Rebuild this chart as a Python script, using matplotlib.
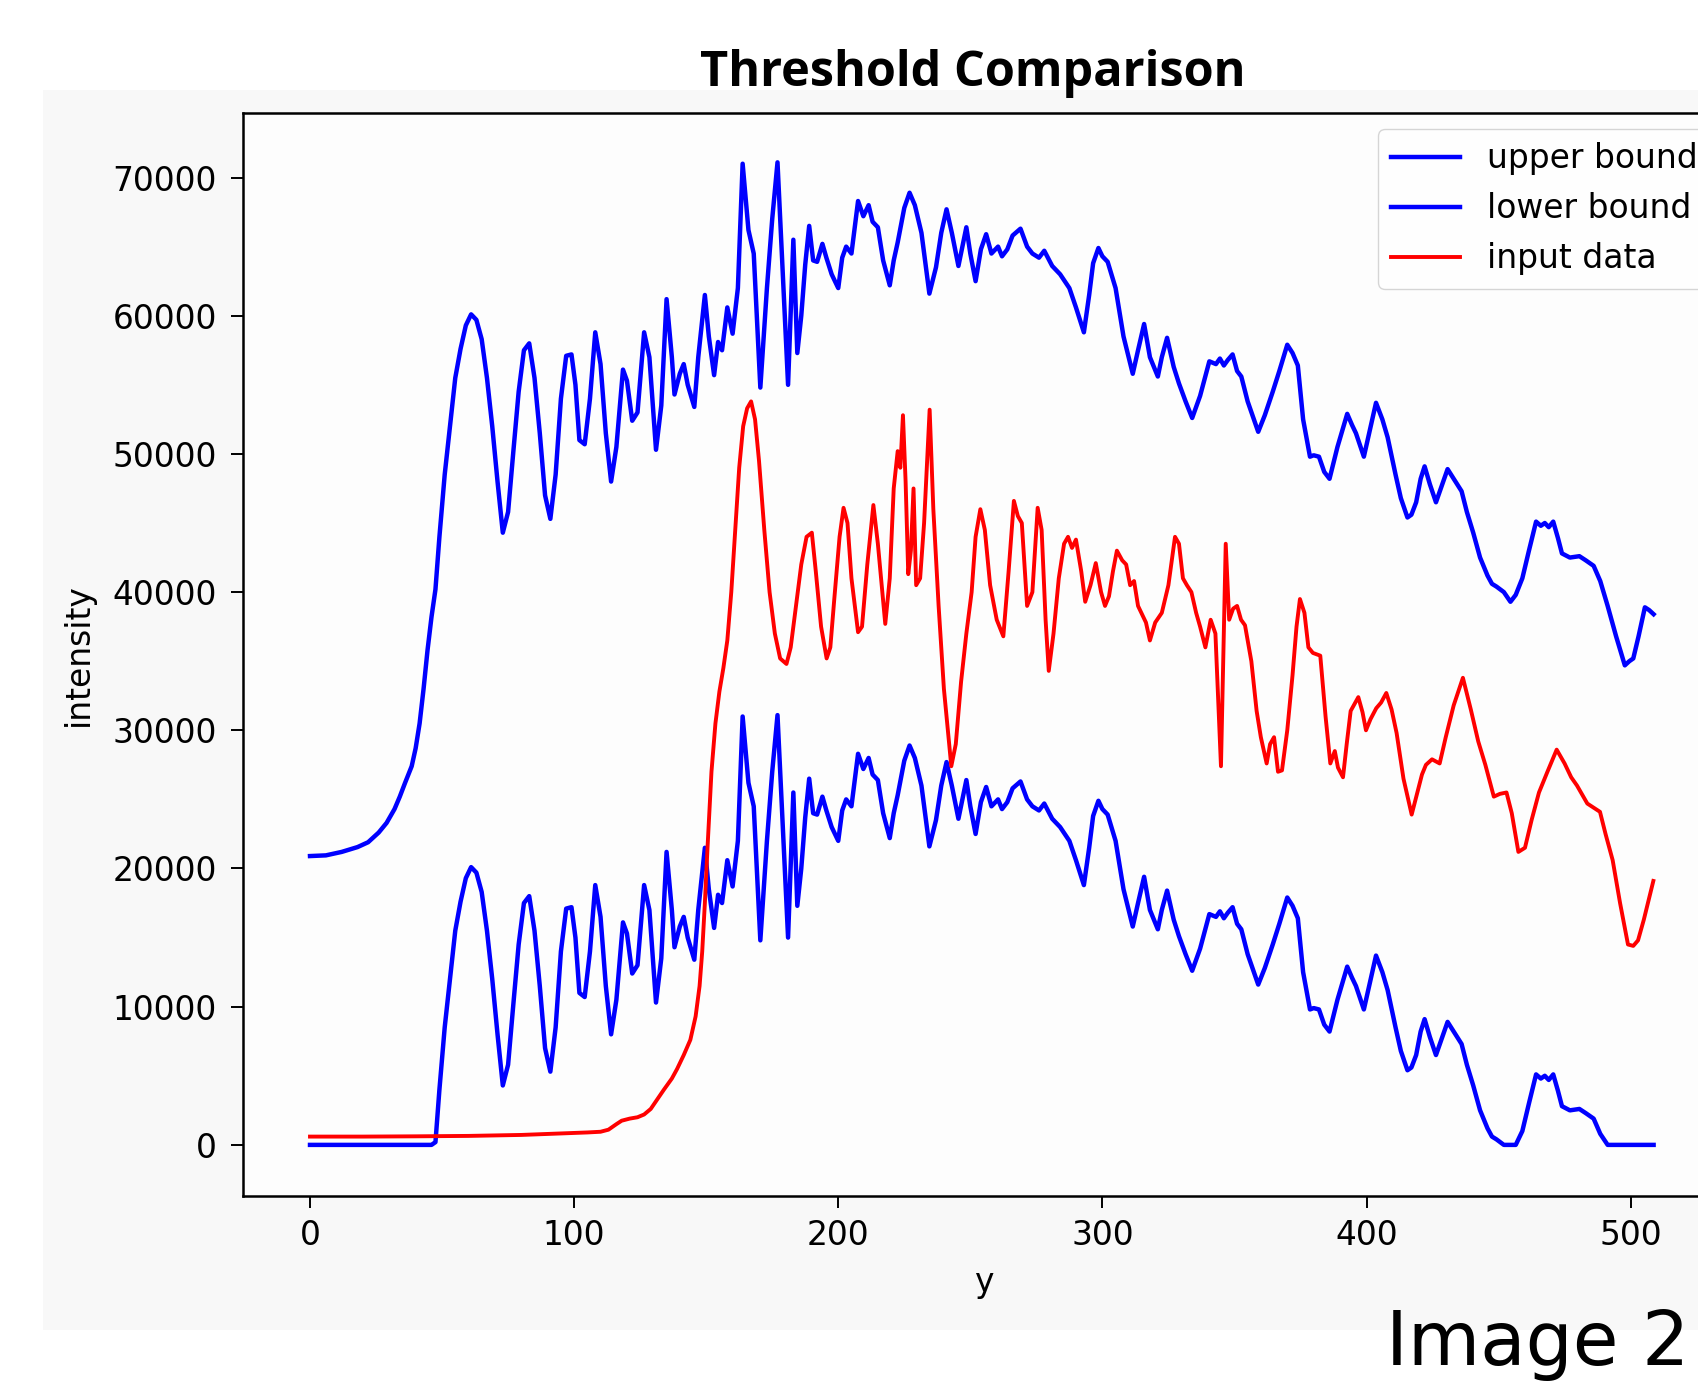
import matplotlib
matplotlib.use("Agg")
import matplotlib.pyplot as plt
from matplotlib.patches import Rectangle

# pixel row (x axis) for the two bound curves
rows_bound = [
    0, 6, 12, 18, 22, 26, 29, 32, 34, 36,
    38.5, 40, 41.5, 43, 44.5, 46, 47.5, 49, 51, 53,
    55, 57, 59, 61, 63, 65, 67, 69, 71, 73,
    75, 77, 79, 81, 83, 85, 87, 89, 91, 93,
    95, 97, 99, 100.5, 102, 104, 106, 108, 110, 112,
    114, 116, 118.5, 120, 122, 124, 126.5, 128.5, 131, 133,
    135, 137, 138, 140, 141.5, 143, 145.5, 147, 149.5, 151,
    153, 154.5, 156, 158, 160, 162, 163.8, 166, 168, 170.5,
    173, 175, 177, 179, 181, 183, 184.5, 186, 187.5, 189,
    190.5, 192, 194, 195.5, 197.5, 200, 201.5, 203, 205, 207.5,
    209.5, 211.5, 213, 215, 217, 219.5, 221, 222.5, 225, 227,
    229, 231.5, 234.5, 237, 239, 241, 243, 245.5, 247, 248.5,
    250, 252, 254, 256, 258, 260.5, 262, 264, 266, 269,
    271.5, 273.5, 276, 278, 281, 284, 287.5, 290, 293, 295,
    296.5, 298.5, 300, 302, 305, 308, 311.5, 313.5, 315.8, 318,
    321, 322.5, 324.5, 327, 329, 331.5, 334, 337, 340.5, 343,
    344.5, 346, 347.5, 349.3, 351, 352.6, 355, 359, 361.5, 364.5,
    367, 370, 372, 374, 376, 378.6, 380, 382, 384, 386,
    389, 392.7, 394.5, 396, 399, 401, 403.6, 406, 408, 411,
    413, 415.5, 417, 418.8, 420.5, 422, 424, 426.3, 428.5, 430.7,
    433, 436, 438, 440.4, 443, 445.8, 447.5, 449.2, 452, 454.5,
    456.5, 459, 461.5, 464.2, 466, 467.5, 469, 470.7, 472.5, 474,
    477, 480.6, 483, 486, 488.5, 491.3, 494.5, 497.8, 499.5, 501,
    503, 505.4, 507, 508.7,
]

upper_bound = [
    20900, 20950, 21200, 21550, 21900, 22600, 23300, 24300, 25200, 26200,
    27400, 28700, 30500, 33000, 35800, 38200, 40200, 44000, 48500, 52000,
    55500, 57600, 59300, 60100, 59700, 58300, 55500, 52000, 48000, 44300,
    45800, 50200, 54500, 57500, 58000, 55500, 51500, 47000, 45300, 48500,
    54000, 57100, 57200, 55000, 51000, 50700, 54000, 58800, 56500, 51500,
    48000, 50500, 56100, 55300, 52400, 53000, 58800, 57000, 50300, 53500,
    61200, 57000, 54300, 55800, 56500, 55000, 53400, 57000, 61500, 58500,
    55700, 58100, 57500, 60600, 58700, 62000, 71000, 66200, 64500, 54800,
    62000, 67000, 71100, 63000, 55000, 65500, 57300, 60000, 63700, 66500,
    64000, 63900, 65200, 64200, 63000, 62000, 64200, 65000, 64500, 68300,
    67200, 68000, 66800, 66400, 64000, 62200, 64000, 65300, 67800, 68900,
    68000, 66000, 61600, 63500, 66000, 67700, 66000, 63600, 65000, 66400,
    64500, 62500, 64800, 65900, 64500, 65000, 64300, 64800, 65800, 66300,
    65000, 64500, 64200, 64700, 63600, 63000, 62000, 60600, 58800, 61500,
    63800, 64900, 64300, 63900, 62000, 58500, 55800, 57500, 59400, 57000,
    55600, 57000, 58400, 56300, 55100, 53800, 52600, 54200, 56700, 56500,
    56900, 56400, 56800, 57200, 56000, 55600, 53800, 51600, 52800, 54500,
    56000, 57900, 57300, 56400, 52500, 49800, 49900, 49800, 48700, 48200,
    50500, 52900, 52100, 51500, 49800, 51500, 53700, 52500, 51200, 48500,
    46800, 45400, 45600, 46500, 48200, 49100, 47800, 46500, 47700, 48900,
    48200, 47300, 45800, 44300, 42500, 41200, 40600, 40400, 40000, 39300,
    39800, 41000, 43000, 45100, 44800, 45000, 44700, 45100, 43900, 42800,
    42500, 42600, 42300, 41900, 40800, 39000, 36800, 34700, 35000, 35200,
    36800, 38900, 38700, 38400,
]

lower_bound = [
    0, 0, 0, 0, 0, 0, 0, 0, 0, 0,
    0, 0, 0, 0, 0, 0, 200, 4000, 8500, 12000,
    15500, 17600, 19300, 20100, 19700, 18300, 15500, 12000, 8000, 4300,
    5800, 10200, 14500, 17500, 18000, 15500, 11500, 7000, 5300, 8500,
    14000, 17100, 17200, 15000, 11000, 10700, 14000, 18800, 16500, 11500,
    8000, 10500, 16100, 15300, 12400, 13000, 18800, 17000, 10300, 13500,
    21200, 17000, 14300, 15800, 16500, 15000, 13400, 17000, 21500, 18500,
    15700, 18100, 17500, 20600, 18700, 22000, 31000, 26200, 24500, 14800,
    22000, 27000, 31100, 23000, 15000, 25500, 17300, 20000, 23700, 26500,
    24000, 23900, 25200, 24200, 23000, 22000, 24200, 25000, 24500, 28300,
    27200, 28000, 26800, 26400, 24000, 22200, 24000, 25300, 27800, 28900,
    28000, 26000, 21600, 23500, 26000, 27700, 26000, 23600, 25000, 26400,
    24500, 22500, 24800, 25900, 24500, 25000, 24300, 24800, 25800, 26300,
    25000, 24500, 24200, 24700, 23600, 23000, 22000, 20600, 18800, 21500,
    23800, 24900, 24300, 23900, 22000, 18500, 15800, 17500, 19400, 17000,
    15600, 17000, 18400, 16300, 15100, 13800, 12600, 14200, 16700, 16500,
    16900, 16400, 16800, 17200, 16000, 15600, 13800, 11600, 12800, 14500,
    16000, 17900, 17300, 16400, 12500, 9800, 9900, 9800, 8700, 8200,
    10500, 12900, 12100, 11500, 9800, 11500, 13700, 12500, 11200, 8500,
    6800, 5400, 5600, 6500, 8200, 9100, 7800, 6500, 7700, 8900,
    8200, 7300, 5800, 4300, 2500, 1200, 600, 400, 0, 0,
    0, 1000, 3000, 5100, 4800, 5000, 4700, 5100, 3900, 2800,
    2500, 2600, 2300, 1900, 800, 0, 0, 0, 0, 0,
    0, 0, 0, 0,
]

# pixel row and intensity of the input profile
rows_input = [
    0, 20, 40, 60, 80, 95, 105, 110, 113, 116,
    118, 121, 124, 126.5, 129, 131.5, 134, 137, 139, 141.5,
    144, 146, 147.5, 148.5, 149.5, 150.5, 152, 153.5, 155, 156.5,
    158, 159.5, 161, 162.5, 164, 165.5, 167, 168.5, 170, 172,
    174, 176, 178, 180.4, 182, 184, 186, 188, 190, 191.5,
    193.5, 195.6, 197, 198.5, 200.5, 202, 203.5, 205, 207.5, 209,
    211, 213.3, 215, 217.8, 219.5, 221, 222.5, 223.5, 224.5, 225.5,
    226.5, 227.5, 228.5, 229.5, 231, 232.5, 234.6, 236, 238, 240,
    242.8, 244.5, 246.5, 248.5, 250.5, 252, 253.8, 255.5, 257.5, 260,
    262.5, 264.5, 266.5, 268, 269.5, 271.5, 273.5, 275.5, 277, 278.5,
    279.7, 281.5, 283.5, 285.5, 287, 288.5, 290, 292, 293.5, 295.5,
    297.5, 299.5, 301, 302.5, 304, 305.5, 307.5, 309, 310.5, 312,
    313.5, 316.5, 318, 320, 322.5, 325, 327.5, 329, 330.5, 332,
    333.7, 335.5, 337, 339, 341, 342.8, 344.9, 346.7, 348, 349.5,
    351, 352.5, 354, 356.4, 358.4, 360, 362.2, 363.5, 365, 366.5,
    368, 370, 372, 373.5, 374.8, 376.5, 378, 379.7, 382.5, 384.5,
    386.3, 388, 389.2, 391.1, 392.5, 394, 396.9, 398.5, 399.8, 401.5,
    403.7, 405.5, 407.5, 409.5, 411.4, 414, 417.1, 419, 421, 422.5,
    424.8, 427.7, 430, 433, 436.5, 439.5, 442.3, 445, 448.2, 450.5,
    453, 455, 457.5, 460, 462.5, 465.3, 468.5, 472, 475, 477.5,
    479.7, 483.6, 486, 488.4, 490.5, 493.2, 496, 499, 501, 502.8,
    505, 508.6,
]

input_data = [
    600, 600, 620, 650, 720, 830, 900, 950, 1100, 1500,
    1750, 1900, 2000, 2200, 2600, 3300, 4000, 4800, 5500, 6500,
    7600, 9300, 11500, 14000, 17500, 21500, 27000, 30500, 32800, 34500,
    36500, 40000, 44500, 49000, 52000, 53300, 53800, 52500, 49500, 44500,
    40000, 37000, 35200, 34800, 36000, 39000, 42000, 44000, 44300, 41500,
    37500, 35200, 36000, 39500, 44000, 46100, 45000, 41000, 37100, 37500,
    42000, 46300, 43500, 37700, 41000, 47500, 50200, 49000, 52800, 48000,
    41300, 43000, 47500, 40500, 41000, 45000, 53200, 46000, 39000, 33000,
    27400, 29000, 33500, 37000, 40000, 44000, 46000, 44500, 40500, 38000,
    36800, 41500, 46600, 45500, 45000, 39000, 40000, 46100, 44500, 38000,
    34300, 37000, 41000, 43500, 44000, 43200, 43800, 41500, 39300, 40500,
    42100, 40000, 39000, 39700, 41500, 43000, 42300, 42000, 40500, 40800,
    39000, 37800, 36500, 37800, 38500, 40500, 44000, 43500, 41000, 40500,
    40000, 38500, 37500, 36000, 38000, 37000, 27400, 43500, 38000, 38800,
    39000, 38000, 37600, 35000, 31400, 29500, 27600, 29000, 29500, 27000,
    27100, 30000, 34000, 37500, 39500, 38500, 36000, 35600, 35400, 31000,
    27600, 28500, 27300, 26600, 29000, 31400, 32400, 31300, 30000, 30800,
    31600, 32000, 32700, 31500, 29800, 26500, 23900, 25300, 26800, 27500,
    27900, 27600, 29500, 31800, 33800, 31500, 29200, 27500, 25200, 25400,
    25500, 24000, 21200, 21500, 23500, 25500, 27000, 28600, 27600, 26600,
    26000, 24700, 24400, 24100, 22500, 20600, 17500, 14500, 14400, 14800,
    16300, 19100,
]

x_ticks = [0, 100, 200, 300, 400, 500]
y_ticks = [0, 10000, 20000, 30000, 40000, 50000, 60000, 70000]

fig = plt.figure(figsize=(16.98, 13.83), dpi=100)

# light grey backdrop of the screenshot
fig.patches.append(Rectangle((43 / 1698, 1 - 1330 / 1383), 1 - 43 / 1698,
                             (1330 - 90) / 1383, transform=fig.transFigure,
                             facecolor='#f8f8f8', edgecolor='none', zorder=-1))

# axes run past the right edge of the picture, as in the screenshot
ax = fig.add_axes([0.1429, 0.1352, 0.8742, 0.7834])
ax.set_facecolor('#fdfdfd')

ax.plot(rows_bound, upper_bound, color='#0000ff', lw=3.2, label='upper bound')
ax.plot(rows_bound, lower_bound, color='#0000ff', lw=3.2, label='lower bound')
ax.plot(rows_input, input_data, color='#ff0000', lw=2.8, label='input data')

ax.set_xlim(-25.5, 536.5)
ax.set_ylim(-3700, 74700)
ax.set_xticks(x_ticks)
ax.set_yticks(y_ticks)

for s in ax.spines.values():
    s.set_linewidth(1.8)
ax.tick_params(labelsize=23.7, length=8.6, width=1.4)
ax.tick_params(axis='x', pad=8)
ax.tick_params(axis='y', pad=10)

ax.set_xlabel('y', fontsize=23.7, labelpad=10)
ax.set_ylabel('intensity', fontsize=23.7, labelpad=13)

ax.legend(loc='upper right', fontsize=23.7, handlelength=2.1, labelspacing=0.52)

fig.text(973 / 1698, 1 - 86 / 1383, 'Threshold Comparison', ha='center',
         va='baseline', fontsize=35, fontweight='bold', family='Open Sans')
fig.text(1386 / 1698, 18 / 1383, 'Image 2', ha='left', va='baseline',
         fontsize=53.5, family='DejaVu Sans')

fig.savefig('out.png', dpi=100)
